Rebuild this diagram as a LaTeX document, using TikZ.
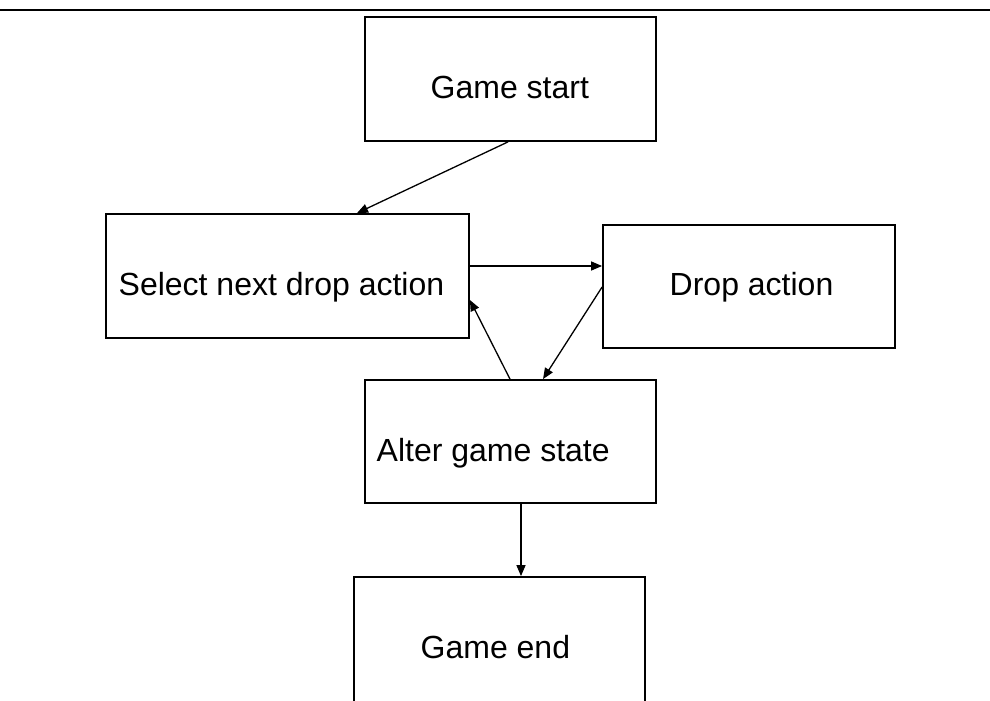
\documentclass[tikz,border=0pt]{standalone}
\usepackage{fontspec}
\setmainfont{Liberation Sans}
\usetikzlibrary{arrows.meta}
\begin{document}
\begin{tikzpicture}[x=1pt,y=-1pt,
  box/.style={draw=black,line width=1.8pt,rectangle,inner sep=0pt,fill=white},
  lbl/.style={anchor=base west,inner sep=0pt,font=\fontsize{32}{38}\selectfont},
  flow/.style={line width=1.3pt,-{Triangle[length=11pt,width=9pt]}}]
\useasboundingbox (0,0) rectangle (990,701);
\clip (0,0) rectangle (990,701);
\fill[white] (0,0) rectangle (990,701);
% header rule
\draw[line width=1.8pt] (0,10) coordinate (ruleL) -- (990,10) coordinate (ruleR);
% process boxes
\node[box,minimum width=291pt,minimum height=124pt] (start)  at (510.5,79)   {};
\node[box,minimum width=363pt,minimum height=124pt] (select) at (287.5,276)  {};
\node[box,minimum width=292pt,minimum height=123pt] (drop)   at (749,286.5)  {};
\node[box,minimum width=291pt,minimum height=123pt] (alter)  at (510.5,441.5){};
\node[box,minimum width=291pt,minimum height=150pt] (gend)   at (499.5,652)  {};
% labels
\node[lbl] (tstart)  at (430.5,98)  {Game start};
\node[lbl] (tselect) at (118.5,295) {Select next drop action};
\node[lbl] (tdrop)   at (669.5,295) {Drop action};
\node[lbl] (talter)  at (376.5,461) {Alter game state};
\node[lbl] (tgend)   at (420.5,658) {Game end};
% transitions
\draw[flow] ([shift={(-2.5,0)}]start.south) -- ([shift={(69.5,0)}]select.north);
\draw[flow] ([shift={(0,-10)}]select.east) -- ([shift={(0,-20.5)}]drop.west);
\draw[flow] ([shift={(0,0.5)}]drop.west) -- ([shift={(32.5,0)}]alter.north);
\draw[flow] ([shift={(-0.5,0)}]alter.north) -- ([shift={(0,24)}]select.east);
\draw[flow] ([shift={(10.5,0)}]alter.south) -- ([shift={(21.5,0)}]gend.north);
\end{tikzpicture}
\end{document}
